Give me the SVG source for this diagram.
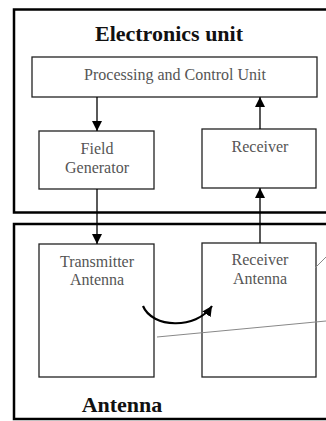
<svg xmlns="http://www.w3.org/2000/svg" width="326" height="421" viewBox="0 0 326 421">
<style>
.frame{fill:none;stroke:#000;stroke-width:2.5}
.box{fill:#fff;stroke:#222;stroke-width:1.3}
.lbl{font-family:"Liberation Serif","Times New Roman",serif;font-size:16px;fill:#555;text-anchor:middle}
.title{font-family:"Liberation Serif","Times New Roman",serif;font-size:22px;font-weight:bold;fill:#111;text-anchor:middle}
.conn{stroke:#000;stroke-width:1.3;fill:none}
.thin{stroke:#888;stroke-width:1;fill:none}
</style>
<defs>
<marker id="ah" viewBox="0 0 10 10" refX="10" refY="5" markerWidth="10" markerHeight="10" markerUnits="userSpaceOnUse" orient="auto">
<path d="M0,0 L10,5 L0,10 z" fill="#000"/>
</marker>
</defs>
<rect width="326" height="421" fill="#fff"/>
<g id="electronics-unit">
<path class="frame" d="M330,9.5 H14 V212.5 H330"/>
<text class="title" x="169" y="41">Electronics unit</text>
</g>
<g id="antenna-unit">
<path class="frame" d="M330,224 H14 V419 H330"/>
<text class="title" x="122" y="412">Antenna</text>
</g>
<g id="processing">
<rect class="box" x="32" y="57" width="285" height="40"/>
<text class="lbl" x="175" y="80">Processing and Control Unit</text>
</g>
<g id="field-generator">
<rect class="box" x="39" y="131" width="115" height="58"/>
<text class="lbl" x="97" y="154">Field</text>
<text class="lbl" x="97" y="173">Generator</text>
</g>
<g id="receiver">
<rect class="box" x="202" y="129" width="114" height="59"/>
<text class="lbl" x="260" y="152">Receiver</text>
</g>
<g id="transmitter-antenna">
<rect class="box" x="39" y="244" width="115" height="133"/>
<text class="lbl" x="97" y="267">Transmitter</text>
<text class="lbl" x="97" y="285">Antenna</text>
</g>
<g id="receiver-antenna">
<rect class="box" x="202" y="243" width="114" height="134"/>
<text class="lbl" x="260" y="265">Receiver</text>
<text class="lbl" x="260" y="284">Antenna</text>
</g>
<g id="connectors">
<line class="conn" x1="97" y1="97" x2="97" y2="131" marker-end="url(#ah)"/>
<line class="conn" x1="260" y1="129" x2="260" y2="97" marker-end="url(#ah)"/>
<line class="conn" x1="97" y1="189" x2="97" y2="244" marker-end="url(#ah)"/>
<line class="conn" x1="260" y1="243" x2="260" y2="188" marker-end="url(#ah)"/>
<path d="M143,306 C152,328 196,330 212,306" stroke="#000" stroke-width="2.2" fill="none" marker-end="url(#ah)"/>
<line class="thin" x1="157" y1="337" x2="326" y2="321"/>
<line class="thin" x1="315" y1="268" x2="326" y2="257"/>
</g>
</svg>
